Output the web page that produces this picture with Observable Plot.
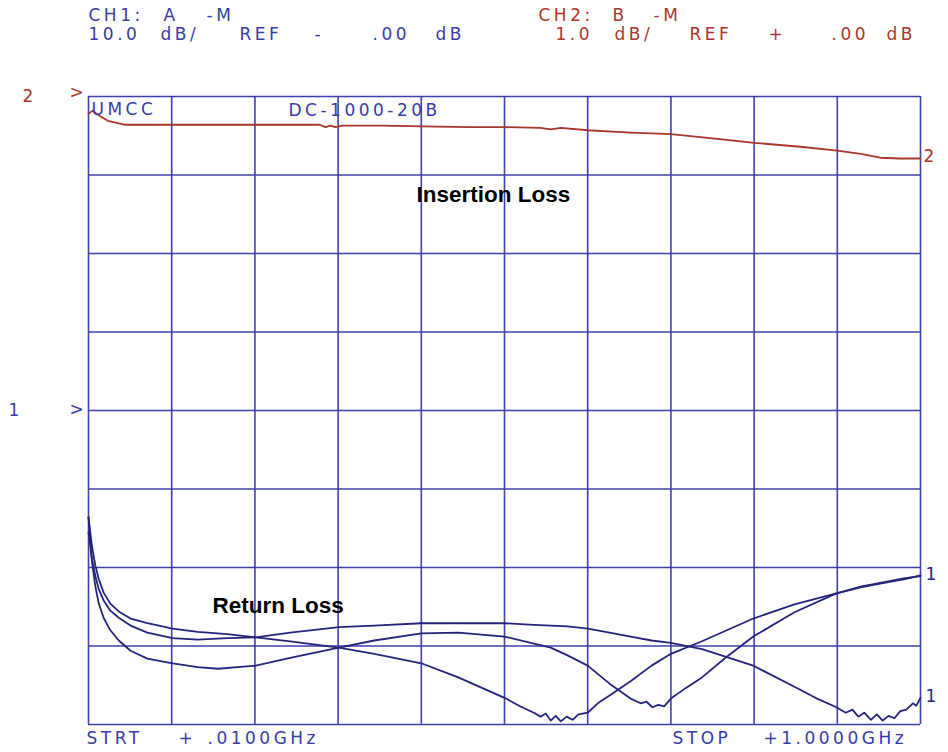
<!DOCTYPE html>
<html><head><meta charset="utf-8">
<script src="https://cdn.jsdelivr.net/npm/d3@7"></script>
<script src="https://cdn.jsdelivr.net/npm/@observablehq/plot@0.6"></script>
<style>
body{margin:0;background:#fff}
g[font-family*="DejaVu"] text{letter-spacing:3.5px}
</style>
</head><body><div id="chart"></div>
<script>
// ---- grid (10 horizontal divisions, 8 vertical divisions) ----
const xGridMHz = [10,109,208,307,406,505,604,703,802,901,1000];
const yGridCh1 = [-40,-30,-20,-10,0,10,20,30,40]; // CH1: 10 dB/div, REF 0 dB at centre

// ---- CH1 return loss, trace A (dip near 940 MHz) ----
const freqA = [10,14,18,22,28,36,46,60,80,110,140,175,209,250,308,350,406,450,505,540,580,604,630,655,680,703,740,801,850,875,900,911,919,926,933,941,948,955,962,969,976,983,991,995,1000];
const dbA   = [-15.5,-18.9,-21.0,-22.7,-24.2,-25.5,-26.4,-27.4,-28.3,-29.0,-29.2,-29.0,-28.9,-28.3,-27.6,-27.4,-27.1,-27.1,-27.1,-27.3,-27.5,-27.8,-28.3,-28.8,-29.3,-29.6,-30.4,-32.5,-35.2,-36.6,-37.8,-38.5,-38.1,-39.0,-38.5,-39.4,-38.7,-39.5,-38.9,-39.2,-38.3,-38.1,-37.3,-37.6,-36.6];

// ---- CH1 return loss, trace B (dip near 570 MHz) ----
const freqB = [10,14,18,22,28,36,46,60,80,110,140,175,209,250,308,350,406,450,505,524,540,548,554,560,566,572,579,586,593,604,616,630,655,680,703,740,801,850,900,930,960,980,1000];
const dbB   = [-13.6,-17.2,-19.7,-21.4,-23.2,-24.6,-25.6,-26.5,-27.1,-27.8,-28.2,-28.5,-28.9,-29.4,-30.2,-31.0,-32.2,-34.0,-36.6,-37.7,-38.5,-39.0,-38.6,-39.5,-38.9,-39.6,-39.0,-39.4,-38.7,-38.5,-37.3,-36.3,-34.5,-32.5,-31.0,-29.4,-26.5,-24.7,-23.3,-22.5,-21.9,-21.5,-21.0];

// ---- CH1 return loss, trace C (dips near 165 and 680 MHz) ----
const freqC = [10,14,18,22,28,36,46,60,80,110,140,164,187,209,250,308,350,406,450,505,540,560,580,604,630,655,667,674,681,688,695,703,720,740,768,801,850,900,930,960,980,1000];
const dbC   = [-13.6,-19.1,-22.3,-24.5,-26.4,-28.0,-29.3,-30.6,-31.6,-32.2,-32.7,-32.9,-32.7,-32.5,-31.5,-30.2,-29.3,-28.4,-28.3,-28.8,-29.7,-30.2,-31.2,-32.5,-34.8,-36.7,-37.3,-37.1,-37.8,-37.5,-37.7,-36.7,-35.4,-34.0,-31.5,-28.8,-25.7,-23.3,-22.4,-21.8,-21.4,-21.1];

// ---- CH2 insertion loss (1 dB/div, REF 0 dB at top line) ----
const freqIL = [10,15,22,33,45,54,110,200,285,292,298,304,312,360,406,465,505,548,560,572,604,655,703,750,802,857,901,929,952,975,1000];
const dbIL   = [-0.22,-0.18,-0.24,-0.31,-0.34,-0.36,-0.36,-0.36,-0.36,-0.39,-0.37,-0.39,-0.37,-0.37,-0.38,-0.39,-0.39,-0.40,-0.42,-0.40,-0.43,-0.46,-0.48,-0.53,-0.59,-0.64,-0.69,-0.73,-0.78,-0.79,-0.79];

const toRows = (fs, vs) => fs.map((f, i) => ({f, v: vs[i]}));
const traceA = toRows(freqA, dbA);
const traceB = toRows(freqB, dbB);
const traceC = toRows(freqC, dbC);
const traceIL = toRows(freqIL, dbIL);

// CH2 shares the frame: its REF (0 dB) sits on the top graticule line, 1 dB per division
const ch2ToFrame = d => 40 + d.v * 10;

const BLUE_GRID = "#4040ad";
const BLUE_TRACE = "#24247c";
const BLUE_TEXT = "#3a3aa6";
const RED = "#a8362c";
const plotFont = "'DejaVu Sans', sans-serif";
const boldFont = "'Liberation Sans', Arial, sans-serif";

// annotation helper: positions relative to the frame's top-left corner
const ML = 88, MT = 96;
function note(text, px, py, fill, extra = {}) {
  return Plot.text([text], {
    frameAnchor: "top-left", dx: px - ML, dy: py - MT, text: d => d,
    textAnchor: "start", lineAnchor: "bottom", fill,
    fontSize: 17, fontFamily: plotFont, ...extra
  });
}

const chart = Plot.plot({
  width: 948, height: 752,
  marginLeft: ML, marginRight: 28, marginTop: MT, marginBottom: 28,
  x: {domain: [10, 1000], axis: null},
  y: {domain: [-40, 40], axis: null},
  style: {background: "#ffffff"},
  marks: [
    Plot.ruleX(xGridMHz, {stroke: BLUE_GRID, strokeWidth: 1.6}),
    Plot.ruleY(yGridCh1, {stroke: BLUE_GRID, strokeWidth: 1.6}),

    Plot.line(traceA, {x: "f", y: "v", stroke: BLUE_TRACE, strokeWidth: 1.8}),
    Plot.line(traceB, {x: "f", y: "v", stroke: BLUE_TRACE, strokeWidth: 1.8}),
    Plot.line(traceC, {x: "f", y: "v", stroke: BLUE_TRACE, strokeWidth: 1.8}),
    Plot.line(traceIL, {x: "f", y: ch2ToFrame, stroke: RED, strokeWidth: 1.8}),

    // trace end labels
    Plot.text([traceB[traceB.length - 1], traceA[traceA.length - 1]], {
      x: "f", y: "v", text: () => "1", dx: 5, dy: -1, textAnchor: "start",
      fill: BLUE_TRACE, fontSize: 17, fontFamily: plotFont
    }),
    Plot.text([traceIL[traceIL.length - 1]], {
      x: "f", y: ch2ToFrame, text: () => "2", dx: 3, dy: -2, textAnchor: "start",
      fill: RED, fontSize: 17, fontFamily: plotFont
    }),

    // reference markers
    Plot.text([{f: 10, v: 0}], {x: "f", y: "v", text: () => "1", dx: -80, textAnchor: "start", fill: BLUE_TEXT, fontSize: 17, fontFamily: plotFont}),
    Plot.text([{f: 10, v: 0}], {x: "f", y: "v", text: () => ">", dx: -19, dy: -1, textAnchor: "start", fill: BLUE_TEXT, fontSize: 17, fontFamily: plotFont}),
    Plot.text([{f: 10, v: 0}], {x: "f", y: ch2ToFrame, text: () => "2", dx: -66, dy: 0, textAnchor: "start", fill: RED, fontSize: 17, fontFamily: plotFont}),
    Plot.text([{f: 10, v: 0}], {x: "f", y: ch2ToFrame, text: () => ">", dx: -19, dy: -4, textAnchor: "start", fill: RED, fontSize: 17, fontFamily: plotFont}),

    // header CH1
    note("CH1:", 88, 20, BLUE_TEXT),
    note("A", 163, 20, BLUE_TEXT),
    note("-M", 206, 20, BLUE_TEXT),
    note("10.0", 88, 39, BLUE_TEXT),
    note("dB/", 160, 39, BLUE_TEXT),
    note("REF", 239, 39, BLUE_TEXT),
    note("-", 314, 39, BLUE_TEXT),
    note(".00", 372, 39, BLUE_TEXT),
    note("dB", 435, 39, BLUE_TEXT),
    // header CH2
    note("CH2:", 538, 20, RED),
    note("B", 612, 20, RED),
    note("-M", 653, 20, RED),
    note("1.0", 555, 39, RED),
    note("dB/", 614, 39, RED),
    note("REF", 689, 39, RED),
    note("+", 768, 39, RED),
    note(".00", 831, 39, RED),
    note("dB", 886, 39, RED),

    // labels in the frame
    note("UMCC", 91, 114, BLUE_TEXT),
    note("DC-1000-20B", 288, 115, BLUE_TEXT),
    note("Insertion Loss", 416, 201, "#000", {fontFamily: boldFont, fontWeight: "bold", fontSize: 22.5}),
    note("Return Loss", 212, 612, "#000", {fontFamily: boldFont, fontWeight: "bold", fontSize: 22.5}),

    // footer
    note("STRT", 86, 743, BLUE_TEXT),
    note("+", 178, 743, BLUE_TEXT),
    note(".0100GHz", 207, 743, BLUE_TEXT),
    note("STOP", 672, 743, BLUE_TEXT),
    note("+1.0000GHz", 763, 743, BLUE_TEXT)
  ]
});
document.getElementById("chart").append(chart);
</script>
</body></html>
